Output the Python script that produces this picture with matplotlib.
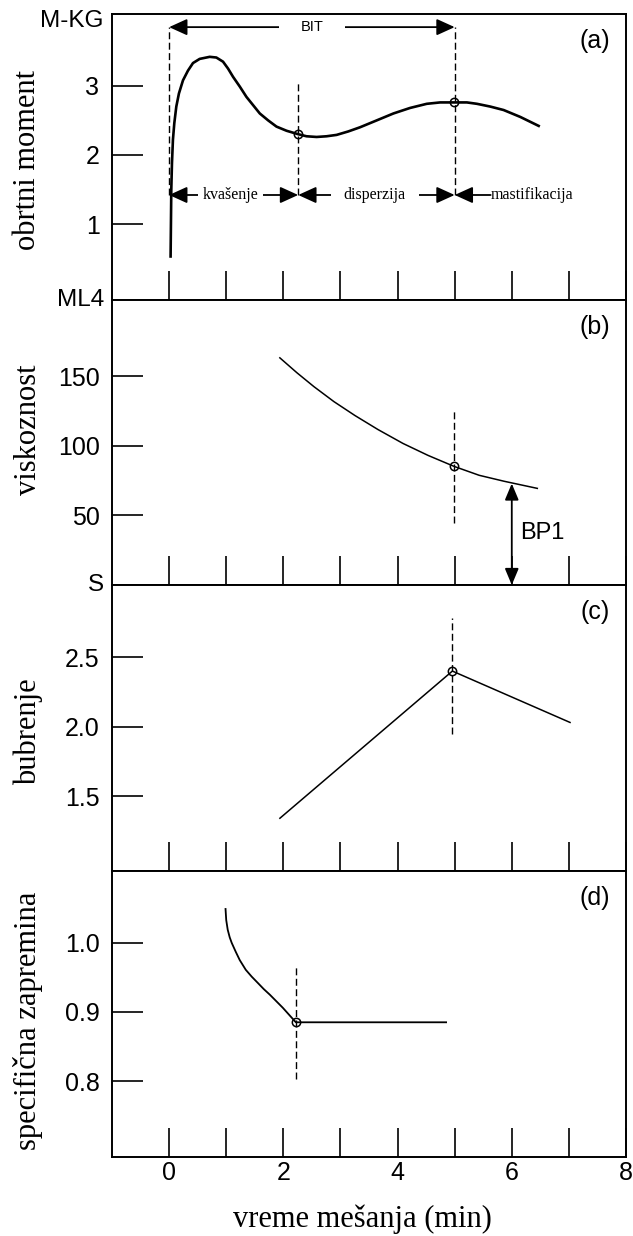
import matplotlib
matplotlib.use('Agg')
import matplotlib.pyplot as plt

sans = 'Liberation Sans'
serif = 'Liberation Serif'

# (a) torque vs mixing time
t_a = [0.026, 0.032, 0.038, 0.050, 0.067, 0.091, 0.126, 0.172, 0.243, 0.330, 0.418, 0.535,
       0.711, 0.827, 0.944, 1.032, 1.120, 1.237, 1.354, 1.471, 1.588, 1.734, 1.880, 2.056,
       2.260, 2.406, 2.582, 2.757, 2.933, 3.137, 3.342, 3.635, 3.927, 4.219, 4.512, 4.746,
       4.991, 5.214, 5.389, 5.623, 5.857, 6.149, 6.471]
m_a = [0.53, 1.01, 1.49, 1.88, 2.22, 2.46, 2.70, 2.89, 3.08, 3.22, 3.33, 3.39,
       3.42, 3.41, 3.35, 3.25, 3.13, 2.99, 2.84, 2.72, 2.60, 2.50, 2.41, 2.35,
       2.30, 2.27, 2.26, 2.27, 2.29, 2.34, 2.40, 2.50, 2.60, 2.68, 2.74, 2.76,
       2.76, 2.76, 2.74, 2.70, 2.65, 2.55, 2.42]
pts_a_x = [2.26, 4.99]
pts_a_y = [2.30, 2.76]

# (b) viscosity
t_b = [1.939, 2.237, 2.535, 2.886, 3.254, 3.658, 4.096, 4.535, 4.991, 5.430, 5.868, 6.447]
v_b = [163.4, 152.7, 142.7, 131.9, 121.9, 111.8, 101.8, 93.2, 85.3, 78.9, 74.6, 69.5]
pt_b = (4.99, 85.3)
bp1_x, bp1_top = 6.0, 73.0

# (c) swelling
t_c = [1.94, 4.96, 7.02]
s_c = [1.34, 2.40, 2.03]
pt_c = (4.96, 2.40)

# (d) specific volume
t_d = [0.988, 1.000, 1.026, 1.061, 1.096, 1.167, 1.237, 1.342, 1.447, 1.553, 1.658, 1.763,
       1.991, 2.219, 4.85]
v_d = [1.049, 1.033, 1.019, 1.008, 1.000, 0.987, 0.975, 0.961, 0.951, 0.942, 0.933, 0.925,
       0.906, 0.885, 0.885]
pt_d = (2.219, 0.885)

ylims = [(-0.1, 4.04), (0, 205), (0.96, 3.02), (0.69, 1.104)]
yticks = [[1, 2, 3], [50, 100, 150], [1.5, 2.0, 2.5], [0.8, 0.9, 1.0]]
ytick_labels = [['1', '2', '3'], ['50', '100', '150'], ['1.5', '2.0', '2.5'], ['0.8', '0.9', '1.0']]
ylabels = ['obrtni moment', 'viskoznost', 'bubrenje', 'specifična zapremina']
ylabel_y = [160, 430, 732, 1021]
panel_tags = ['(a)', '(b)', '(c)', '(d)']
unit_tags = ['M-KG', 'ML4', 'S', '']

W, H = 633, 1236
fig = plt.figure(figsize=(W / 100, H / 100), dpi=100)
edges = [14, 300, 585, 871, 1157]
axes = []
for i in range(4):
    ax = fig.add_axes([112 / W, 1 - edges[i + 1] / H, 514 / W, (edges[i + 1] - edges[i]) / H])
    ax.set_xlim(-1, 8)
    ax.set_ylim(*ylims[i])
    ax.set_xticks(range(0, 9))
    ax.set_yticks(yticks[i])
    ax.set_yticklabels(ytick_labels[i], fontsize=18, family=sans)
    ax.tick_params(axis='x', direction='in', length=21, width=1.2, pad=3)
    ax.tick_params(axis='y', direction='in', length=22, width=1.2, pad=9)
    for sp in ax.spines.values():
        sp.set_linewidth(1.4)
    if i < 3:
        ax.set_xticklabels([])
    else:
        ax.set_xticklabels(['0', '', '2', '', '4', '', '6', '', '8'], fontsize=18, family=sans)
    ax.text(0.969, 0.906, panel_tags[i], transform=ax.transAxes, ha='right', va='center',
            fontsize=18, family=sans)
    if unit_tags[i]:
        ty = 0.9755 if i == 0 else 1.0
        ax.text(-0.0156, ty, unit_tags[i], transform=ax.transAxes, ha='right', va='center',
                fontsize=17.5, family=sans)
    fig.text(28 / W, 1 - ylabel_y[i] / H, ylabels[i], rotation=90, ha='center', va='center',
             fontsize=22, family=serif)
    axes.append(ax)

dash = (0, (5, 2.5))
head = '<|-|>,head_length=1.1,head_width=0.5'

# (a)
ax = axes[0]
ax.plot(t_a, m_a, color='k', lw=1.9)
ax.plot(pts_a_x, pts_a_y, 'o', ms=6, mfc='none', mec='k', mew=1.1)
ax.vlines([0, 5.0], 1.42, 3.85, colors='k', linestyles=dash, lw=1.0)
ax.vlines([2.26], 1.42, 3.07, colors='k', linestyles=dash, lw=1.0)
ax.annotate('', xy=(5.0, 3.85), xytext=(0, 3.85), zorder=1.5,
            arrowprops=dict(arrowstyle=head, mutation_scale=10, color='k', lw=1.3,
                            shrinkA=0, shrinkB=0))
ax.text(2.5, 3.85, 'BIT', ha='center', va='center', fontsize=10.5, family=sans, zorder=2,
        bbox=dict(boxstyle='square,pad=1.5', fc='white', ec='none'))
ax.annotate('', xy=(2.26, 1.42), xytext=(0, 1.42), zorder=1.5,
            arrowprops=dict(arrowstyle=head, mutation_scale=10, color='k', lw=1.3,
                            shrinkA=0, shrinkB=0))
ax.text(1.08, 1.42, 'kvašenje', ha='center', va='center', fontsize=11.5, family=serif, zorder=2,
        bbox=dict(boxstyle='square,pad=0.3', fc='white', ec='none'))
ax.annotate('', xy=(5.0, 1.42), xytext=(2.26, 1.42), zorder=1.5,
            arrowprops=dict(arrowstyle=head, mutation_scale=10, color='k', lw=1.3,
                            shrinkA=0, shrinkB=0))
ax.text(3.6, 1.42, 'disperzija', ha='center', va='center', fontsize=11.5, family=serif, zorder=2,
        bbox=dict(boxstyle='square,pad=0.8', fc='white', ec='none'))
ax.annotate('', xy=(5.0, 1.42), xytext=(5.63, 1.42), zorder=1.5,
            arrowprops=dict(arrowstyle='-|>,head_length=1.1,head_width=0.5', mutation_scale=10,
                            color='k', lw=1.3, shrinkA=0, shrinkB=0))
ax.text(5.63, 1.42, 'mastifikacija', ha='left', va='center', fontsize=11.5, family=serif)

# (b)
ax = axes[1]
ax.plot(t_b, v_b, color='k', lw=1.1)
ax.plot(*pt_b, 'o', ms=6, mfc='none', mec='k', mew=1.1)
ax.vlines([pt_b[0]], 44.4, 126.9, colors='k', linestyles=dash, lw=1.0)
ax.annotate('', xy=(bp1_x, bp1_top), xytext=(bp1_x, 0),
            arrowprops=dict(arrowstyle='<|-|>,head_length=1.0,head_width=0.42', mutation_scale=10,
                            color='k', lw=1.3, shrinkA=0, shrinkB=0))
ax.text(6.15, 37.3, 'BP1', ha='left', va='center', fontsize=17, family=sans)

# (c)
ax = axes[2]
ax.plot(t_c, s_c, color='k', lw=1.1)
ax.plot(*pt_c, 'o', ms=6, mfc='none', mec='k', mew=1.1)
ax.vlines([pt_c[0]], 1.95, 2.78, colors='k', linestyles=dash, lw=1.0)

# (d)
ax = axes[3]
ax.plot(t_d, v_d, color='k', lw=1.3)
ax.plot(*pt_d, 'o', ms=6, mfc='none', mec='k', mew=1.1)
ax.vlines([pt_d[0]], 0.803, 0.968, colors='k', linestyles=dash, lw=1.0)

fig.text(362 / W, 1 - 1219 / H, 'vreme mešanja (min)', ha='center', va='center',
         fontsize=22, family=serif)

fig.savefig('out.png', dpi=100)
